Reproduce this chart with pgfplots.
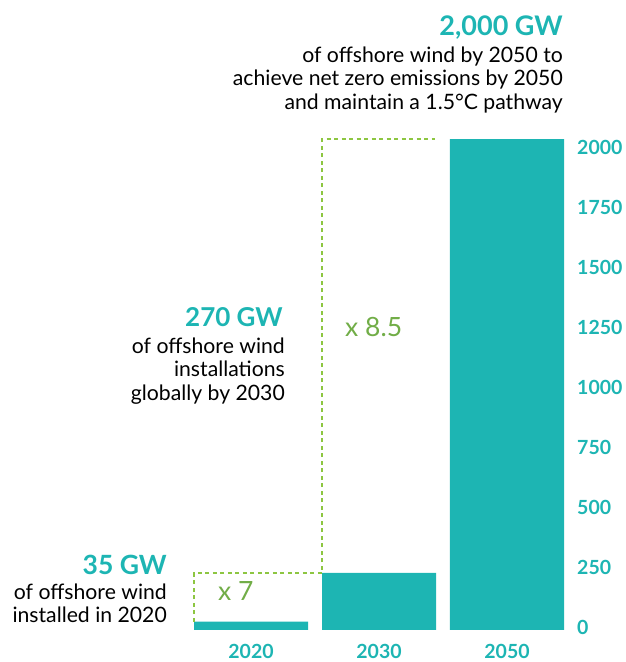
\documentclass[border=0pt]{standalone}
\usepackage{pgfplots}
\pgfplotsset{compat=1.18}
\usepackage{fontspec}
\setmainfont{Lato}
\definecolor{teal1}{HTML}{1DB5B3}
\definecolor{dashg}{HTML}{8DC641}
\definecolor{textg}{HTML}{71AD47}
\begin{document}
\begin{tikzpicture}
\path[use as bounding box] (0,0) rectangle (626pt,662pt);
\begin{axis}[
  at={(181pt,32pt)}, anchor=south west,
  scale only axis, width=385pt, height=504pt,
  xmin=-0.547, xmax=2.461, ymin=0, ymax=2100,
  axis line style={draw=none}, major tick length=0pt, tick style={draw=none},
  xtick={0,1,2}, xticklabels={2020,2030,2050},
  ytick={0,250,500,750,1000,1250,1500,1750,2000},
  yticklabel pos=right,
  scaled y ticks=false,
  /pgf/number format/assume math mode=true,
  /pgf/number format/1000 sep={},
  xticklabel style={anchor=base, inner sep=0pt, yshift=-28pt, font=\fontsize{19.5}{20}\selectfont\bfseries, text=teal1},
  yticklabel style={anchor=west, inner sep=0pt, xshift=11pt, yshift=3pt, font=\fontsize{19.5}{20}\selectfont\bfseries, text=teal1},
  clip=false,
]
\addplot[ybar, bar width=114pt, fill=teal1, draw=none] coordinates {(0,35) (1,238) (2,2045)};
\addplot[dashg, line width=2.5pt, dash pattern=on 4pt off 3.5pt, mark=none] coordinates {(-0.445,35) (-0.445,238) (0.555,238) (0.555,2045) (1.4375,2045)};
\end{axis}
\begin{scope}[every node/.style={inner sep=0pt}]
\node[anchor=base east, text=teal1, font=\fontsize{27}{28}\selectfont\bfseries] at (563pt,626pt) {2,000 GW};
\node[anchor=base east, font=\fontsize{21.2}{23.5}\selectfont] at (563pt,599pt) {of offshore wind by 2050 to};
\node[anchor=base east, font=\fontsize{21.2}{23.5}\selectfont] at (563pt,576pt) {achieve net zero emissions by 2050};
\node[anchor=base east, font=\fontsize{21.2}{23.5}\selectfont] at (563pt,552pt) {and maintain a 1.5°C pathway};
\node[anchor=base east, text=teal1, font=\fontsize{26}{28}\selectfont\bfseries] at (283pt,335pt) {270 GW};
\node[anchor=base east, font=\fontsize{21.2}{23.5}\selectfont] at (285pt,308.5pt) {of offshore wind};
\node[anchor=base east, font=\fontsize{21.2}{23.5}\selectfont] at (285pt,285pt) {installations};
\node[anchor=base east, font=\fontsize{21.2}{23.5}\selectfont] at (285pt,261.5pt) {globally by 2030};
\node[anchor=base east, text=teal1, font=\fontsize{26.5}{28}\selectfont\bfseries] at (167pt,87pt) {35 GW};
\node[anchor=base east, font=\fontsize{21.2}{23.5}\selectfont] at (167pt,62pt) {of offshore wind};
\node[anchor=base east, font=\fontsize{21.2}{23.5}\selectfont] at (167pt,39pt) {installed in 2020};
\node[anchor=base west, text=textg, font=\fontsize{26.5}{26}\selectfont] at (345pt,325pt) {x 8.5};
\node[anchor=base west, text=textg, font=\fontsize{26.5}{26}\selectfont] at (218pt,61pt) {x 7};
\end{scope}
\end{tikzpicture}
\end{document}
